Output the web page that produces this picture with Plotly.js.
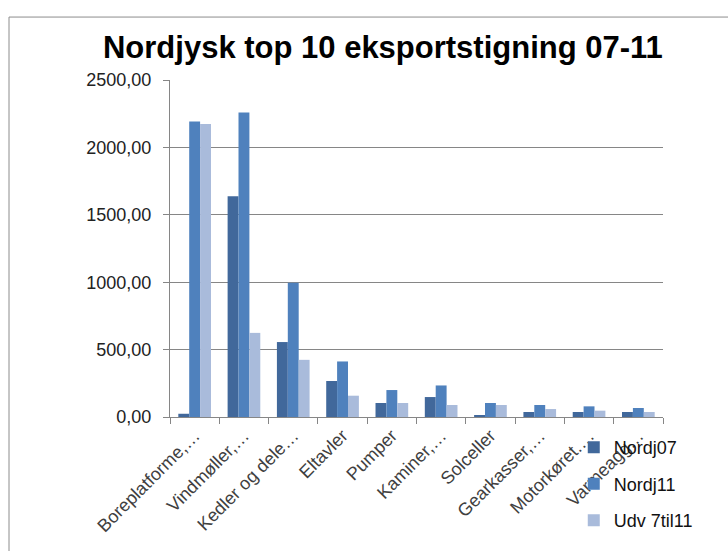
<!DOCTYPE html>
<html><head><meta charset="utf-8">
<script src="https://cdn.plot.ly/plotly-3.0.1.min.js"></script>
<style>html,body{margin:0;padding:0;background:#fff}#chart{width:728px;height:551px}</style>
</head><body><div id="chart"></div>
<script>
const categories = ["Boreplatforme,…","Vindmøller,…","Kedler og dele…","Eltavler","Pumper","Kaminer,…","Solceller","Gearkasser,…","Motorkøret.…","Varmeagg…"];
const nordj07 = [24, 1637, 556, 267, 104, 148, 15, 37, 37, 37];
const nordj11 = [2193, 2259, 995, 412, 200, 234, 104, 89, 79, 67];
const udv7til11 = [2173, 624, 424, 158, 104, 89, 89, 59, 47, 37];
const seriesNames = ["Nordj07","Nordj11","Udv 7til11"];
const seriesColors = ["#41689B","#4F81BD","#A9BBDB"];
const yTicks = [0, 500, 1000, 1500, 2000, 2500];

const FONT = "'Liberation Sans', Arial, sans-serif";
const data = [nordj07, nordj11, udv7til11].map((vals, i) => ({
  type: 'bar', x: categories, y: vals, name: seriesNames[i],
  legendgroup: 'g' + i,
  marker: {color: seriesColors[i], line: {width: 0}}
}));

const layout = {
  width: 728, height: 551,
  margin: {l: 170, r: 65, t: 80, b: 133.7, autoexpand: false},
  paper_bgcolor: '#fff', plot_bgcolor: '#fff',
  separators: ',.',
  barmode: 'group', bargap: 0.337, bargroupgap: 0,
  font: {family: FONT, size: 18, color: '#222'},
  title: {text: 'Nordjysk top 10 eksportstigning 07-11', x: 0.526, xref: 'container', xanchor: 'center',
          y: 0.915, yref: 'container', yanchor: 'middle',
          font: {family: FONT, size: 31, color: '#000', weight: 'bold'}},
  xaxis: {type: 'category', showline: true, linecolor: '#868686', linewidth: 1,
          ticks: 'outside', tickson: 'boundaries', ticklen: 6, tickcolor: '#868686',
          tickangle: -45, tickfont: {size: 18, color: '#404040'}, showgrid: false, fixedrange: true},
  yaxis: {range: [0, 2500], tickvals: yTicks, tickformat: '.2f', showline: true, linecolor: '#868686',
          ticks: 'outside', ticklen: 6, tickcolor: '#868686', gridcolor: '#868686', gridwidth: 1,
          zeroline: false, tickfont: {size: 18, color: '#222'}, ticklabelstandoff: 8, fixedrange: true},
  legend: {x: 0.819, xanchor: 'left', y: -0.036, yanchor: 'top', bgcolor: 'rgba(255,255,255,0)',
           font: {size: 18, color: '#111'}, tracegroupgap: 10, itemclick: false},
  showlegend: true,
  shapes: [{type: 'rect', xref: 'paper', yref: 'paper', x0: (9 - 170) / 493, x1: 1.3, y0: -0.6, y1: (417.3 - 17) / 337.3,
            line: {color: '#8c8c8c', width: 1}, layer: 'below'}]
};
Plotly.newPlot('chart', data, layout, {displayModeBar: false, staticPlot: true});
</script></body></html>
